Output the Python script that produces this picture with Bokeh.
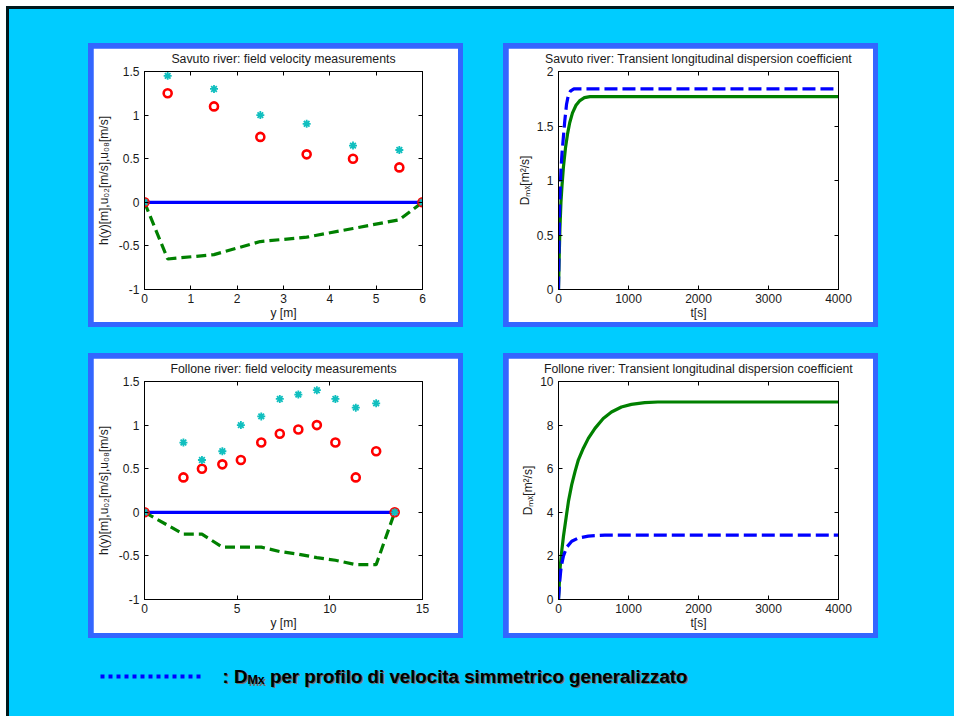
from bokeh.plotting import figure
from bokeh.models import (Range1d, FixedTicker, LinearAxis, Column, Row, Spacer,
                          Label, Legend, LegendItem)
from bokeh.embed import file_html
from bokeh.resources import INLINE

FONT = "Liberation Sans"
CYAN_BG = "#00CCFF"
FRAME_BLUE = "#3366FF"
EDGE = "#00181c"
TXT = "#1a1a1a"
NAN = float("nan")

# ---------------- data ----------------
# Savuto river: field velocity measurements
sav_y = [0, 0.5, 1.5, 2.5, 3.5, 4.5, 5.5, 6]
sav_bed = [0, -0.65, -0.6, -0.45, -0.4, -0.3, -0.2, 0]
sav_u02 = [0, 1.25, 1.1, 0.75, 0.55, 0.5, 0.4, 0]
sav_u08 = [0, 1.45, 1.3, 1.0, 0.9, 0.65, 0.6, 0]
sav_surf_y = [0, 6]
sav_surf_h = [0, 0]

# Follone river: field velocity measurements
fol_y = [0, 2.1, 3.1, 4.2, 5.2, 6.3, 7.3, 8.3, 9.3, 10.3, 11.4, 12.5, 13.5]
fol_bed = [0, -0.25, -0.25, -0.4, -0.4, -0.4, -0.45, -0.48, -0.52, -0.55, -0.6, -0.6, 0]
fol_u02 = [0, 0.4, 0.5, 0.55, 0.6, 0.8, 0.9, 0.95, 1.0, 0.8, 0.4, 0.7, 0]
fol_u08 = [0, 0.8, 0.6, 0.7, 1.0, 1.1, 1.3, 1.35, 1.4, 1.3, 1.2, 1.25, 0]
fol_surf_y = [0, 13.5]
fol_surf_h = [0, 0]

# Savuto river: transient longitudinal dispersion coefficient
sav_t_sym = [0, 10, 20, 35, 50, 70, 90, 115, 140, 170, 220, 4000]
sav_D_sym = [0, 0.5, 0.85, 1.1, 1.25, 1.4, 1.55, 1.7, 1.78, 1.82, 1.84, 1.84]
sav_t_gen = [0, 10, 20, 35, 50, 70, 100, 130, 160, 200, 250, 300, 370, 450, 550, 4000]
sav_D_gen = [0, 0.3, 0.55, 0.8, 0.95, 1.12, 1.3, 1.43, 1.53, 1.62, 1.69, 1.73,
             1.76, 1.77, 1.77, 1.77]

# Follone river: transient longitudinal dispersion coefficient
fol_t_sym = [0, 19, 38, 71, 118, 189, 284, 426, 663, 4000]
fol_D_sym = [0, 0.9, 1.5, 2.0, 2.4, 2.67, 2.82, 2.91, 2.95, 2.95]
fol_t_gen = [0, 24, 47, 71, 109, 142, 189, 237, 284, 355, 426, 521, 639, 757,
             899, 1041, 1231, 1420, 4000]
fol_D_gen = [0, 1.5, 2.24, 2.9, 3.76, 4.5, 5.27, 5.88, 6.41, 6.94, 7.39, 7.85,
             8.3, 8.6, 8.83, 8.95, 9.03, 9.06, 9.06]

# axis ticks / labels
field_yticks = [-1, -0.5, 0, 0.5, 1, 1.5]
field_ylabels = ["-1", "-0.5", "0", "0.5", "1", "1.5"]
sav_xticks = [0, 1, 2, 3, 4, 5, 6]
sav_xlabels = ["0", "1", "2", "3", "4", "5", "6"]
fol_xticks = [0, 5, 10, 15]
fol_xlabels = ["0", "5", "10", "15"]
t_ticks = [0, 1000, 2000, 3000, 4000]
t_labels = ["0", "1000", "2000", "3000", "4000"]
savD_ticks = [0, 0.5, 1, 1.5, 2]
savD_labels = ["0", "0.5", "1", "1.5", "2"]
folD_ticks = [0, 2, 4, 6, 8, 10]
folD_labels = ["0", "2", "4", "6", "8", "10"]

legend_text_main = ": D"
legend_text_sub = "Mx"
legend_text_rest = "per profilo di velocita simmetrico generalizzato"


def style_axis(ax, ticks, labels, show_labels=True):
    ax.ticker = FixedTicker(ticks=ticks, minor_ticks=[])
    ax.major_tick_in = 4
    ax.major_tick_out = 0
    ax.minor_tick_in = 0
    ax.minor_tick_out = 0
    ax.axis_line_color = "black"
    ax.major_tick_line_color = "black"
    ax.major_label_text_font = FONT
    ax.major_label_text_color = TXT
    ax.axis_label_text_font = FONT
    ax.axis_label_text_font_style = "normal"
    ax.axis_label_text_color = TXT
    ax.axis_label_text_font_size = "12px"
    if show_labels:
        ax.major_label_overrides = {t: l for t, l in zip(ticks, labels)}
        ax.major_label_text_font_size = "12px"
    else:
        ax.major_label_overrides = {t: "" for t in ticks}
        ax.major_label_text_font_size = "0px"
        ax.major_label_standoff = 0


def make_fig(title, xr, yr, xt, xl, yt, yl, xlabel, ylabel, h, left_b, right_b,
             ylab_standoff):
    frame_h = 221 if h == 274 else 220
    p = figure(width=365, height=h, x_range=Range1d(*xr), y_range=Range1d(*yr),
               output_backend="svg", toolbar_location=None,
               min_border_left=left_b, min_border_right=right_b,
               min_border_top=21, min_border_bottom=h - 21 - frame_h)
    p.border_fill_color = "white"
    p.background_fill_color = "white"
    p.outline_line_color = "black"
    p.grid.visible = False
    style_axis(p.xaxis[0], xt, xl)
    style_axis(p.yaxis[0], yt, yl)
    p.xaxis[0].axis_label = xlabel
    p.yaxis[0].axis_label = ylabel
    p.xaxis[0].major_label_standoff = 4
    p.xaxis[0].axis_label_standoff = 0
    p.yaxis[0].major_label_standoff = 5
    p.yaxis[0].axis_label_standoff = ylab_standoff
    # top axis of the MATLAB box; its label carries the panel title
    top = LinearAxis(axis_label=title)
    style_axis(top, xt, xl, show_labels=False)
    top.axis_label_standoff = 6
    top.axis_label_text_font_size = "12.3px"
    p.add_layout(top, "above")
    right = LinearAxis()
    style_axis(right, yt, yl, show_labels=False)
    p.add_layout(right, "right")
    return p


def field_panel(p, y, bed, u02, u08, sy, sh):
    p.line(sy, sh, line_color="#0000FF", line_width=3.2)
    p.line(y, bed, line_color="#008000", line_width=3.2, line_dash="10 5")
    p.scatter(y, u02, marker="circle", size=8, fill_color=None,
              line_color="#FF0000", line_width=2.6)
    p.scatter(y, u08, marker="asterisk", size=8, line_color="#10BFBF",
              line_width=1.8)


def trans_panel(p, ts, ds, tg, dg):
    p.line(tg, dg, line_color="#008000", line_width=3.2)
    p.line(ts, ds, line_color="#0000FF", line_width=3.2, line_dash="13 5")


YLAB_FIELD = "h(y)[m],u\u2080\u2082[m/s],u\u2080\u2088[m/s]"
YLAB_D = "D\u2098\u2093[m\u00b2/s]"

p1 = make_fig("Savuto river: field velocity measurements", (0, 6), (-1, 1.5),
              sav_xticks, sav_xlabels, field_yticks, field_ylabels,
              "y [m]", YLAB_FIELD, 274, 50, 36, 5)
field_panel(p1, sav_y, sav_bed, sav_u02, sav_u08, sav_surf_y, sav_surf_h)

p2 = make_fig("Savuto river: Transient longitudinal dispersion coefficient",
              (0, 4000), (0, 2), t_ticks, t_labels, savD_ticks, savD_labels,
              "t[s]", YLAB_D, 274, 50, 35, 2)
trans_panel(p2, sav_t_sym, sav_D_sym, sav_t_gen, sav_D_gen)

p3 = make_fig("Follone river: field velocity measurements", (0, 15), (-1, 1.5),
              fol_xticks, fol_xlabels, field_yticks, field_ylabels,
              "y [m]", YLAB_FIELD, 275, 50, 36, 5)
field_panel(p3, fol_y, fol_bed, fol_u02, fol_u08, fol_surf_y, fol_surf_h)

p4 = make_fig("Follone river: Transient longitudinal dispersion coefficient",
              (0, 4000), (0, 10), t_ticks, t_labels, folD_ticks, folD_labels,
              "t[s]", YLAB_D, 275, 50, 35, 2)
trans_panel(p4, fol_t_sym, fol_D_sym, fol_t_gen, fol_D_gen)


def framed(fig, h):
    return Column(children=[
        Spacer(width=375, height=5),
        Row(children=[Spacer(width=5, height=h), fig, Spacer(width=5, height=h)]),
        Spacer(width=375, height=5)],
        styles={"background-color": FRAME_BLUE})


W, H = 954, 716
IW, IH = W - 9, H - 6
# ---------------- bottom legend ----------------
LH = IH - (3 + 34 + 284 + 26 + 285)
lp = figure(width=IW, height=LH, x_range=Range1d(0, 1), y_range=Range1d(0, 1),
            x_axis_type=None, y_axis_type=None, toolbar_location=None,
            output_backend="svg", min_border=0)
lp.background_fill_color = None
lp.background_fill_alpha = 0
lp.border_fill_color = None
lp.border_fill_alpha = 0
lp.outline_line_color = None
lp.grid.visible = False
sample = lp.line(x=[NAN, NAN], y=[NAN, NAN], line_color="#0000FF", line_width=4,
                 line_dash="4 4")
leg = Legend(items=[LegendItem(label=" ", renderers=[sample])],
             location=(91, LH - 38 - 10),
             glyph_width=101, glyph_height=20, label_standoff=0, label_width=0,
             label_height=20, padding=0, margin=0, border_line_color=None,
             background_fill_alpha=0, label_text_font_size="1px")
lp.add_layout(leg)

x0, base = 213, 40.5
pieces = [(legend_text_main, 0, 0, "18.7px"),
          (legend_text_sub, 24.9, -4, "12.5px"),
          (legend_text_rest, 47.5, 0, "18.7px")]
for color, dx, dy in (("#707070", 1.5, -1.5), ("black", 0, 0)):
    for txt, ox, oy, fs in pieces:
        lp.add_layout(Label(x=x0 + ox + dx, y=base + oy + dy, x_units="screen",
                            y_units="screen", text=txt, text_font=FONT,
                            text_font_size=fs, text_font_style="bold",
                            text_color=color, text_baseline="alphabetic"))

inner = Column(children=[
    Spacer(width=IW, height=3, styles={"background-color": EDGE}),
    Spacer(width=IW, height=34),
    Row(children=[Spacer(width=79, height=284), framed(p1, 274),
                  Spacer(width=40, height=284), framed(p2, 274)]),
    Spacer(width=IW, height=26),
    Row(children=[Spacer(width=79, height=285), framed(p3, 275),
                  Spacer(width=40, height=285), framed(p4, 275)]),
    lp],
    styles={"background-color": CYAN_BG})

root = Column(children=[
    Spacer(width=W, height=6),
    Row(children=[Spacer(width=6, height=IH),
                  Spacer(width=3, height=IH, styles={"background-color": EDGE}),
                  inner])])

open("out.html", "w").write(file_html(root, INLINE))
